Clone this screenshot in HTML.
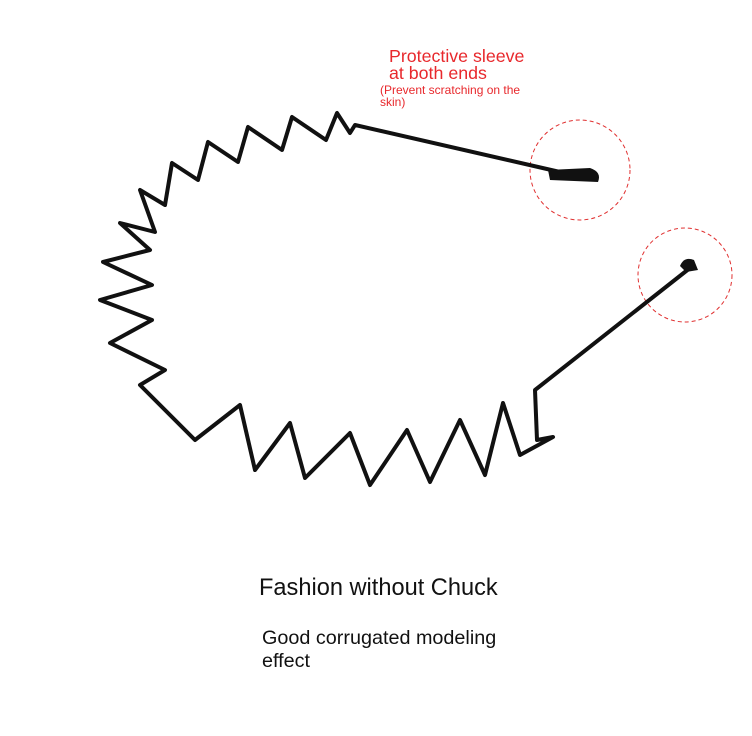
<!DOCTYPE html>
<html><head><meta charset="utf-8"><style>
body{margin:0;width:752px;height:736px;background:#fff;overflow:hidden;position:relative;font-family:"Liberation Sans",sans-serif}
.t{position:absolute;white-space:nowrap}
</style></head><body>
<svg width="752" height="736" style="position:absolute;left:0;top:0">
<circle cx="580" cy="170" r="50" fill="none" stroke="#e03030" stroke-width="1" stroke-dasharray="4,3"/>
<circle cx="685" cy="275" r="47" fill="none" stroke="#e03030" stroke-width="1" stroke-dasharray="4,3"/>
<polyline fill="none" stroke="#111" stroke-width="4" stroke-linejoin="round" stroke-linecap="round"
points="560,172 355,125 350,133 337,113 326,140 292,117 282,150 248,127 238,162 208,142 198,180 172,163 165,205 140,190 155,232 120,223 150,250 103,262 152,285 100,300 152,320 110,343 165,370 140,385 195,440 240,405 255,470 290,423 305,478 350,433 370,485 407,430 430,482 460,420 485,475 503,403 520,455 553,437 537,440 535,390 690,268"/>
<path d="M548,170 L590,168 Q602,172 598,182 L550,180 Z" fill="#111"/>
<path d="M686,272 L680,266 Q684,256 694,260 L698,270 Z" fill="#111"/>
</svg>
<div class="t" style="left:389px;top:48px;font-size:17.8px;color:#e8282c;line-height:17px">Protective sleeve<br>at both ends</div>
<div class="t" style="left:380px;top:84px;font-size:12px;color:#e8282c;line-height:12px">(Prevent scratching on the<br>skin)</div>
<div class="t" style="left:259px;top:575px;font-size:23.6px;color:#111">Fashion without Chuck</div>
<div class="t" style="left:262px;top:627px;font-size:19.8px;color:#111;line-height:23px">Good corrugated modeling<br>effect</div>
</body></html>
